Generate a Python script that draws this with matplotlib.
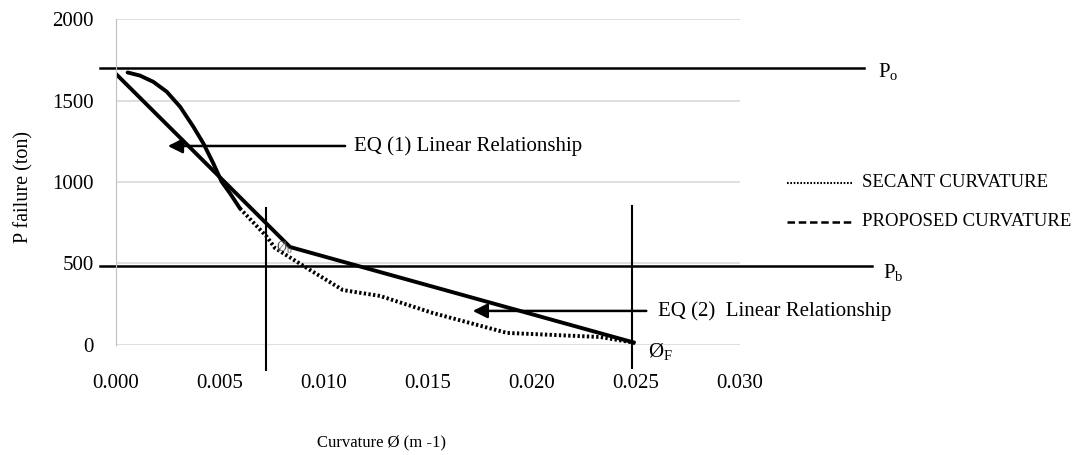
import matplotlib
matplotlib.use("Agg")
import matplotlib.pyplot as plt

plt.rcParams["font.family"] = ["Liberation Serif", "DejaVu Serif"]

# secant curvature (upper part drawn solid, rest dotted)
sec_top_x = [0.00056, 0.00115, 0.00179, 0.00244, 0.00308, 0.00372, 0.00420,
             0.00468, 0.00508, 0.00548, 0.00580, 0.00596]
sec_top_y = [1672, 1653, 1615, 1554, 1462, 1339, 1237, 1114, 1002, 931, 869, 838]
sec_x = [0.00596, 0.00726, 0.00764, 0.00933, 0.01091, 0.01269, 0.01524, 0.0188, 0.02327, 0.0250]
sec_y = [838, 663, 595, 460, 337, 301, 196, 74, 49, 12]

# proposed curvature: EQ (1) and EQ (2) linear relationships
prop_x = [0.0, 0.00837, 0.0249]
prop_y = [1663, 601, 15]

P_o = 1700
P_b = 485
phi_b = 0.00721
phi_f = 0.0248

fig = plt.figure(figsize=(10.78, 4.55), dpi=100)
ax = fig.add_axes([0.1076, 0.2418, 0.5788, 0.7164])
ax.set_xlim(0, 0.030)
ax.set_ylim(0, 2000)
ax.set_xticks([0, 0.005, 0.010, 0.015, 0.020, 0.025, 0.030])
ax.set_xticklabels([f"{v:.3f}" for v in ax.get_xticks()])
ax.set_yticks([0, 500, 1000, 1500, 2000])
ax.yaxis.grid(True, color="#d9d9d9", lw=1.2)
ax.set_axisbelow(True)
for s in ("top", "right", "bottom"):
    ax.spines[s].set_visible(False)
ax.spines["left"].set_color("#bfbfbf")
ax.tick_params(length=0, labelsize=15)
ax.tick_params(axis="y", pad=16)
ax.tick_params(axis="x", pad=21)
ax.set_ylabel("P failure (ton)", fontsize=14.5)
ax.set_xlabel("Curvature Ø (m -1)", fontsize=12)
ax.yaxis.set_label_coords(-0.133, 0.485)
ax.xaxis.set_label_coords(0.425, -0.275)

# reference lines drawn past the plot area
ax.plot([-0.00077, 0.03596], [P_o, P_o], color="black", lw=1.8, clip_on=False)
ax.plot([-0.00077, 0.03635], [P_b, P_b], color="black", lw=1.8, clip_on=False)
ax.plot([phi_b, phi_b], [-153, 840], color="black", lw=1.5, clip_on=False)
ax.plot([phi_f, phi_f], [-140, 850], color="black", lw=1.5, clip_on=False)

ax.plot(sec_top_x, sec_top_y, color="black", lw=2.8, solid_capstyle="round")
ax.plot(sec_x, sec_y, color="black", lw=2.8, ls=(0, (0.6, 0.6)))
ax.plot(prop_x, prop_y, color="black", lw=2.8, solid_capstyle="round")

# arrows
ax.annotate("", xy=(0.00236, 1221), xytext=(0.01115, 1221),
            arrowprops=dict(arrowstyle="-|>", color="black", lw=1.8, mutation_scale=22))
ax.text(0.01144, 1221, "EQ (1) Linear Relationship", fontsize=15, va="center")
ax.annotate("", xy=(0.01702, 209), xytext=(0.02563, 209),
            arrowprops=dict(arrowstyle="-|>", color="black", lw=1.8, mutation_scale=22),
            annotation_clip=False)
ax.text(0.02606, 209, "EQ (2)  Linear Relationship", fontsize=15, va="center", clip_on=False)

ax.text(0.03663, 1675, r"P$_{\mathregular{o}}$", fontsize=15, va="center", clip_on=False)
ax.text(0.03687, 442, r"P$_{\mathregular{b}}$", fontsize=15, va="center", clip_on=False)
ax.text(0.0077, 595, r"Ø$_{\mathregular{b}}$", fontsize=10, color="#555555", va="center")
ax.text(0.0256, -43, r"Ø$_{\mathregular{F}}$", fontsize=15, va="center", clip_on=False)

# legend
ax.plot([0.03226, 0.03538], [994, 994], color="black", lw=1.5, ls=(0, (0.8, 0.8)), clip_on=False)
ax.text(0.03587, 994, "SECANT CURVATURE", fontsize=13.5, va="center", clip_on=False)
ax.plot([0.03226, 0.03538], [755, 755], color="black", lw=1.8, ls=(0, (3, 1.5)), clip_on=False)
ax.text(0.03587, 755, "PROPOSED CURVATURE", fontsize=13.5, va="center", clip_on=False)

fig.savefig("out.png", dpi=100)
